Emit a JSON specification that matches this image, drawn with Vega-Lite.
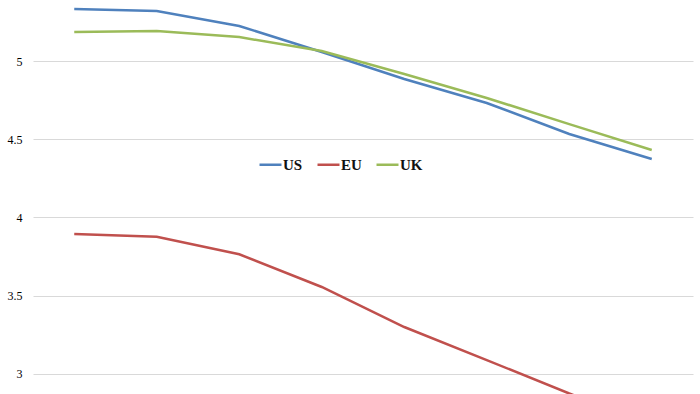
{
  "$schema": "https://vega.github.io/schema/vega-lite/v6.json",
  "width": 660,
  "height": 394,
  "autosize": {"type": "none"},
  "padding": {"left": 33, "top": 0, "right": 7, "bottom": 0},
  "background": "white",
  "config": {"view": {"stroke": null}},
  "data": {"values": [
    {"p": 1, "s": "US", "v": 5.332}, {"p": 2, "s": "US", "v": 5.319}, {"p": 3, "s": "US", "v": 5.224}, {"p": 4, "s": "US", "v": 5.058},
    {"p": 5, "s": "US", "v": 4.885}, {"p": 6, "s": "US", "v": 4.732}, {"p": 7, "s": "US", "v": 4.534}, {"p": 8, "s": "US", "v": 4.374},
    {"p": 1, "s": "EU", "v": 3.895}, {"p": 2, "s": "EU", "v": 3.877}, {"p": 3, "s": "EU", "v": 3.765}, {"p": 4, "s": "EU", "v": 3.556},
    {"p": 5, "s": "EU", "v": 3.300}, {"p": 6, "s": "EU", "v": 3.089}, {"p": 7, "s": "EU", "v": 2.875}, {"p": 8, "s": "EU", "v": 2.68},
    {"p": 1, "s": "UK", "v": 5.185}, {"p": 2, "s": "UK", "v": 5.192}, {"p": 3, "s": "UK", "v": 5.153}, {"p": 4, "s": "UK", "v": 5.064},
    {"p": 5, "s": "UK", "v": 4.917}, {"p": 6, "s": "UK", "v": 4.764}, {"p": 7, "s": "UK", "v": 4.597}, {"p": 8, "s": "UK", "v": 4.431}
  ]},
  "mark": {"type": "line", "strokeWidth": 2.5, "clip": true},
  "encoding": {
    "x": {"field": "p", "type": "ordinal", "scale": {"type": "point", "padding": 0.5}, "axis": null},
    "y": {"field": "v", "type": "quantitative", "scale": {"domain": [2.872, 5.39], "nice": false, "zero": false},
      "axis": {"values": [3, 3.5, 4, 4.5, 5], "format": "~g", "title": null, "domain": false, "ticks": false, "grid": true, "gridColor": "#d9d9d9", "gridWidth": 1,
        "labelFont": "Liberation Serif", "labelFontSize": 12, "labelColor": "#000000", "labelPadding": 11}},
    "color": {"field": "s", "type": "nominal",
      "scale": {"domain": ["US", "EU", "UK"], "range": ["#4F81BD", "#C0504D", "#9BBB59"]},
      "legend": {"title": null, "orient": "none", "legendX": 225, "legendY": 152, "direction": "horizontal",
        "symbolType": "stroke", "symbolStrokeWidth": 2.5, "symbolSize": 484, "labelFont": "Liberation Serif", "labelFontWeight": "bold",
        "labelFontSize": 15, "labelColor": "#111111", "columnPadding": 9, "labelOffset": 0}}
  }
}
